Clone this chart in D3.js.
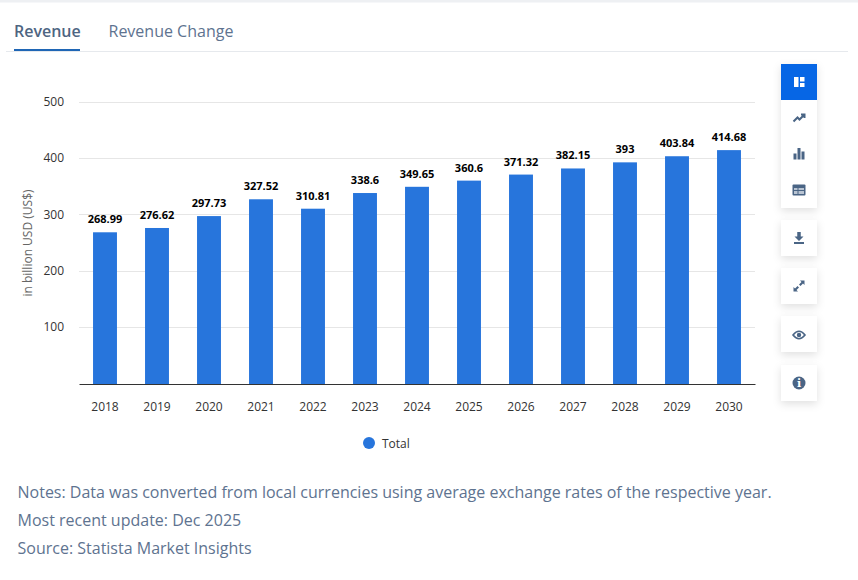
<!DOCTYPE html>
<html>
<head>
<meta charset="utf-8">
<script src="https://cdn.jsdelivr.net/npm/d3@7"></script>
<style>
  html, body { margin: 0; padding: 0; background: #fff; }
  svg { display: block; font-family: "Open Sans", sans-serif; }
</style>
</head>
<body>
<div id="chart"></div>
<script>
// Chart data
var years = ["2018", "2019", "2020", "2021", "2022", "2023", "2024", "2025", "2026", "2027", "2028", "2029", "2030"];
var revenue = [268.99, 276.62, 297.73, 327.52, 310.81, 338.6, 349.65, 360.6, 371.32, 382.15, 393, 403.84, 414.68];
var yTicks = [100, 200, 300, 400, 500];
var notes = [
  "Notes: Data was converted from local currencies using average exchange rates of the respective year.",
  "Most recent update: Dec 2025",
  "Source: Statista Market Insights"
];

var svgWidth = 858;
var svgHeight = 580;
var margin = { top: 102, right: 103, bottom: 196, left: 79 };
var width = svgWidth - margin.left - margin.right;
var height = svgHeight - margin.top - margin.bottom;

var svg = d3.select("#chart")
  .append("svg")
  .attr("width", svgWidth)
  .attr("height", svgHeight);

var defs = svg.append("defs");
var shadow = defs.append("filter")
  .attr("id", "btnShadow")
  .attr("x", "-30%").attr("y", "-30%")
  .attr("width", "160%").attr("height", "170%");
shadow.append("feDropShadow")
  .attr("dx", 0).attr("dy", 3)
  .attr("stdDeviation", 4)
  .attr("flood-color", "#000")
  .attr("flood-opacity", 0.12);

// Strip along the top of the page
svg.append("rect")
  .attr("width", svgWidth).attr("height", 2.5)
  .attr("fill", "#eef0f3");

// Tabs
svg.append("text")
  .attr("x", 14).attr("y", 36.5)
  .attr("font-size", 16).attr("font-weight", 600)
  .attr("fill", "#4e6582")
  .text("Revenue");
svg.append("text")
  .attr("x", 108.5).attr("y", 36.5)
  .attr("font-size", 16)
  .attr("fill", "#5e7390")
  .text("Revenue Change");
svg.append("line")
  .attr("x1", 6).attr("x2", 848)
  .attr("y1", 51.5).attr("y2", 51.5)
  .attr("stroke", "#e6e9ed");
svg.append("rect")
  .attr("x", 14).attr("y", 49)
  .attr("width", 66).attr("height", 2)
  .attr("fill", "#1f66b5");

var chartGroup = svg.append("g")
  .attr("transform", `translate(${margin.left}, ${margin.top})`);

var xScale = d3.scaleBand()
  .domain(years)
  .range([0, width])
  .paddingInner(0.54)
  .paddingOuter(0.27);

var yScale = d3.scaleLinear()
  .domain([0, 500])
  .range([height, 0]);

// Gridlines
chartGroup.append("g")
  .selectAll("line")
  .data(yTicks)
  .enter()
  .append("line")
  .attr("x1", 0)
  .attr("x2", width)
  .attr("y1", d => Math.floor(yScale(d)) + 0.5)
  .attr("y2", d => Math.floor(yScale(d)) + 0.5)
  .attr("stroke", "#e6e6e6");

// Y axis labels
var leftAxis = d3.axisLeft(yScale).tickValues(yTicks).tickSize(0).tickPadding(15);
var yAxis = chartGroup.append("g")
  .attr("transform", "translate(0, -0.5)")
  .call(leftAxis);
yAxis.select(".domain").remove();
yAxis.selectAll("text")
  .attr("font-family", "'Open Sans', sans-serif")
  .attr("font-size", 12)
  .attr("fill", "#333");

// Bars
chartGroup.append("g")
  .selectAll("rect")
  .data(revenue)
  .enter()
  .append("rect")
  .attr("x", (d, i) => xScale(years[i]))
  .attr("y", d => yScale(d))
  .attr("width", xScale.bandwidth())
  .attr("height", d => height - yScale(d))
  .attr("fill", "#2775dc");

// Value labels
chartGroup.append("g")
  .selectAll("text")
  .data(revenue)
  .enter()
  .append("text")
  .attr("x", (d, i) => xScale(years[i]) + xScale.bandwidth() / 2)
  .attr("y", d => yScale(d) - 9)
  .attr("text-anchor", "middle")
  .attr("font-size", 11)
  .attr("font-weight", 700)
  .attr("fill", "#000")
  .text(d => d);

// X axis
var bottomAxis = d3.axisBottom(xScale).tickSize(0).tickPadding(18);
var xAxis = chartGroup.append("g")
  .attr("transform", `translate(0, ${height})`)
  .call(bottomAxis);
xAxis.select(".domain").attr("stroke", "#333").attr("stroke-width", 1);
xAxis.selectAll("text")
  .attr("font-family", "'Open Sans', sans-serif")
  .attr("font-size", 12)
  .attr("fill", "#333");

// Y axis title
svg.append("text")
  .attr("transform", "translate(32, 243) rotate(-90)")
  .attr("text-anchor", "middle")
  .attr("font-size", 12)
  .attr("fill", "#666")
  .text("in billion USD (US$)");

// Legend
svg.append("circle")
  .attr("cx", 369).attr("cy", 443)
  .attr("r", 6)
  .attr("fill", "#2775dc");
svg.append("text")
  .attr("x", 382).attr("y", 448)
  .attr("font-size", 12)
  .attr("fill", "#333")
  .text("Total");

// Notes
svg.append("g")
  .selectAll("text")
  .data(notes)
  .enter()
  .append("text")
  .attr("x", 17.5)
  .attr("y", (d, i) => 498 + i * 28)
  .attr("font-size", 16)
  .attr("fill", "#5e7390")
  .text(d => d);

// Side toolbar
var toolbar = svg.append("g");
var panels = [[781, 64, 36, 144], [781, 220, 36, 36], [781, 268, 36, 36], [781, 316, 36, 36], [781, 365, 36, 36]];
toolbar.selectAll("rect.panel")
  .data(panels)
  .enter()
  .append("rect")
  .attr("class", "panel")
  .attr("x", d => d[0]).attr("y", d => d[1])
  .attr("width", d => d[2]).attr("height", d => d[3])
  .attr("fill", "#fff")
  .attr("filter", "url(#btnShadow)");
toolbar.append("rect")
  .attr("x", 781).attr("y", 64)
  .attr("width", 36).attr("height", 36)
  .attr("fill", "#0666e5");

var iconColor = "#4a6585";
// Each icon is drawn around its own centre
function icon(cy) {
  return toolbar.append("g").attr("transform", `translate(799, ${cy})`);
}

// dashboard
var dash = icon(82).attr("fill", "#fff");
dash.append("rect").attr("x", -5).attr("y", -5).attr("width", 4.5).attr("height", 10);
dash.append("rect").attr("x", 1).attr("y", -5).attr("width", 4.5).attr("height", 4.5);
dash.append("rect").attr("x", 1).attr("y", 1).attr("width", 4.5).attr("height", 4);

// trend line
icon(118).append("path")
  .attr("d", "M-5.5 3.5 L-1.5 -0.5 L0.5 1.5 L5 -3 M2 -3.5 H5.5 V0")
  .attr("fill", "none")
  .attr("stroke", iconColor)
  .attr("stroke-width", 2);

// bar chart
var barsIcon = icon(154).attr("fill", iconColor);
barsIcon.append("rect").attr("x", -5.5).attr("y", -0.5).attr("width", 3).attr("height", 6);
barsIcon.append("rect").attr("x", -1.5).attr("y", -6).attr("width", 3).attr("height", 11.5);
barsIcon.append("rect").attr("x", 2.5).attr("y", -2.5).attr("width", 3).attr("height", 8);

// table
var tableIcon = icon(190);
tableIcon.append("rect")
  .attr("x", -6.5).attr("y", -5.5).attr("width", 13).attr("height", 11).attr("rx", 1)
  .attr("fill", iconColor);
tableIcon.append("path")
  .attr("d", "M-5 -2 H-1.5 V0 H-5 Z M-0.5 -2 H5 V0 H-0.5 Z M-5 1 H-1.5 V4 H-5 Z M-0.5 1 H5 V4 H-0.5 Z")
  .attr("fill", "#b9c4d2");

// download
icon(238).append("path")
  .attr("d", "M-1.75 -6 H1.75 V-1.5 H4.5 L0 3 L-4.5 -1.5 H-1.75 Z M-5 4 H5 V6 H-5 Z")
  .attr("fill", iconColor);

// fullscreen
icon(286).append("path")
  .attr("d", "M1 -5.5 H5.5 V-1 L4 -2.5 L1.5 0 L0 -1.5 L2.5 -4 Z M-1 5.5 H-5.5 V1 L-4 2.5 L-1.5 0 L0 1.5 L-2.5 4 Z")
  .attr("fill", iconColor);

// eye
var eye = icon(335);
eye.append("path")
  .attr("d", "M-6 0 Q0 -7.5 6 0 Q0 7.5 -6 0 Z")
  .attr("fill", "none")
  .attr("stroke", iconColor)
  .attr("stroke-width", 1.6);
eye.append("circle").attr("r", 2.2).attr("fill", iconColor);

// info
var info = icon(383);
info.append("circle").attr("r", 6.5).attr("fill", iconColor);
info.append("text")
  .attr("text-anchor", "middle")
  .attr("y", 4)
  .attr("font-family", "'DejaVu Serif', serif")
  .attr("font-size", 11)
  .attr("font-weight", 700)
  .attr("fill", "#fff")
  .text("i");
</script>
</body>
</html>
